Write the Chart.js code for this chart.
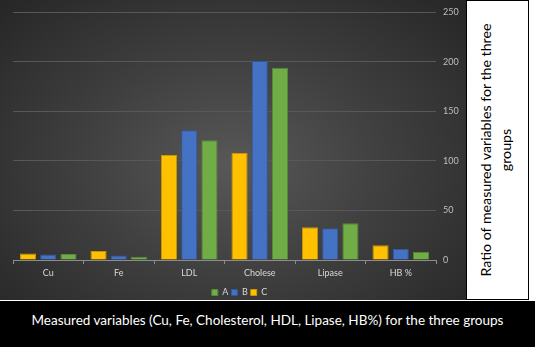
<!DOCTYPE html>
<html>
<head>
<meta charset="utf-8">
<script src="https://cdn.jsdelivr.net/npm/chart.js@4"></script>
<style>
  html, body { margin: 0; padding: 0; background: #fff; }
  #plot {
    position: absolute; left: 0; top: 0; width: 466px; height: 300px; overflow: hidden;
    background: radial-gradient(ellipse at 50% 55%, #585858 0%, #404040 45%, #262626 100%);
  }
  #side {
    position: absolute; left: 466px; top: 0; width: 61px; height: 298px;
    background: #fff; border: 1px solid #000;
  }
  #side div {
    position: absolute; left: 47%; top: 50%; width: 290px;
    transform: translate(-50%, -50%) rotate(-90deg);
    font: 14.2px Lato, sans-serif; line-height: 20px; text-align: center; color: #000;
  }
  #caption {
    position: absolute; left: 0; top: 301px; width: 535px; height: 46px;
    background: #000; color: #fff; font: 13.5px Lato, sans-serif;
    text-align: center; line-height: 38px;
  }
</style>
</head>
<body>
<div id="plot"><canvas id="c" width="466" height="307"></canvas></div>
<div id="side"><div>Ratio of measured variables for the three<br>groups</div></div>
<div id="caption">Measured variables (Cu, Fe, Cholesterol, HDL, Lipase, HB%) for the three groups</div>
<script>
// values
const categories = ["Cu", "Fe", "LDL", "Cholese", "Lipase", "HB %"]
const groupC = [6.5, 9, 106, 108, 33, 15]
const groupB = [5.5, 4.6, 131, 201, 32, 11]
const groupA = [6, 3.3, 121, 194, 37, 8.3]
const yTicks = [0, 50, 100, 150, 200, 250]

const bar = (label, data, color, edge) => ({
  label, data,
  backgroundColor: color,
  borderColor: edge,
  borderWidth: 1,
  categoryPercentage: 0.86,
  barPercentage: 0.8
})

new Chart(document.getElementById("c"), {
  type: "bar",
  data: {
    labels: categories,
    datasets: [
      bar("C", groupC, "#FFC000", "#c99600"),
      bar("B", groupB, "#4472C4", "#30589e"),
      bar("A", groupA, "#70AD47", "#568a35")
    ]
  },
  options: {
    responsive: false,
    animation: false,
    layout: { padding: { left: 13, top: 5, right: 0, bottom: 0 } },
    scales: {
      x: {
        grid: { display: true, drawOnChartArea: false, color: "#8c8c8c", tickLength: 4, offset: true },
        border: { color: "#8c8c8c" },
        ticks: { color: "#d9d9d9", font: { family: "Lato", size: 9 }, padding: 4 },
        afterFit: s => { s.height = 25 }
      },
      y: {
        position: "right",
        min: 0, max: 250,
        afterBuildTicks: s => { s.ticks = yTicks.map(v => ({ value: v })) },
        grid: { color: "#585858", drawTicks: false },
        border: { display: false },
        ticks: { color: "#bfbfbf", font: { family: "Lato", size: 9 }, padding: 7 },
        afterFit: s => { s.width = 30 }
      }
    },
    plugins: {
      legend: {
        position: "bottom",
        reverse: true,
        labels: { color: "#d9d9d9", font: { family: "Lato", size: 9 }, boxWidth: 6, boxHeight: 6, padding: 3 }
      },
      tooltip: { enabled: false }
    }
  }
})
</script>
</body>
</html>
